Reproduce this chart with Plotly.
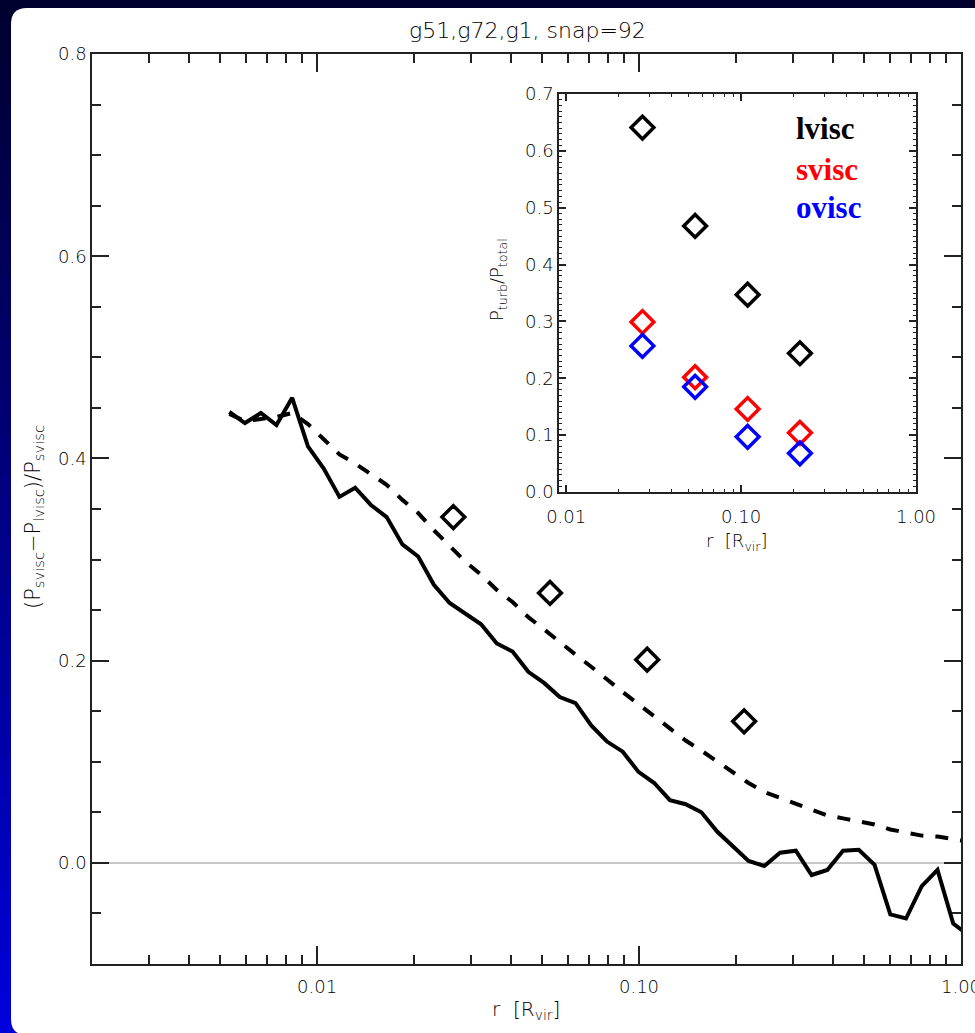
import math
import plotly.graph_objects as go

# ---------------- data ----------------
r_bins = [0.00534, 0.00597, 0.00669, 0.00748, 0.00837, 0.00937, 0.01049, 0.01174,
          0.01313, 0.01470, 0.01645, 0.01841, 0.02061, 0.02306, 0.02581, 0.02888,
          0.03232, 0.03617, 0.04048, 0.04530, 0.05070, 0.05674, 0.06350, 0.07106,
          0.07953, 0.08900, 0.09961, 0.1115, 0.1247, 0.1396, 0.1562, 0.1748,
          0.1956, 0.2189, 0.2450, 0.2742, 0.3069, 0.3436, 0.3844, 0.4302,
          0.4815, 0.5389, 0.6031, 0.6749, 0.7553, 0.8452, 0.9460, 1.0588]

frac_diff_solid = [0.446, 0.435, 0.445, 0.433, 0.460, 0.412, 0.390, 0.362,
                   0.371, 0.354, 0.342, 0.315, 0.303, 0.275, 0.257, 0.247,
                   0.236, 0.217, 0.209, 0.189, 0.178, 0.164, 0.158, 0.136,
                   0.120, 0.110, 0.090, 0.079, 0.062, 0.058, 0.050, 0.031,
                   0.016, 0.002, -0.003, 0.010, 0.012, -0.012, -0.007, 0.012,
                   0.013, -0.002, -0.051, -0.055, -0.023, -0.007, -0.060, -0.072]

frac_diff_dashed = [0.444, 0.437, 0.439, 0.441, 0.445, 0.434, 0.419, 0.404,
                    0.395, 0.385, 0.374, 0.359, 0.346, 0.329, 0.313, 0.298,
                    0.285, 0.270, 0.258, 0.243, 0.231, 0.218, 0.206, 0.194,
                    0.181, 0.169, 0.157, 0.145, 0.132, 0.121, 0.111, 0.100,
                    0.089, 0.079, 0.070, 0.064, 0.059, 0.052, 0.047, 0.044,
                    0.041, 0.038, 0.033, 0.030, 0.027, 0.026, 0.024, 0.021]

main_diamond_r = [0.0265, 0.0529, 0.106, 0.212]
main_diamond_y = [0.342, 0.267, 0.201, 0.140]

inset_r = [0.0273, 0.0546, 0.109, 0.217]
pturb_lvisc = [0.641, 0.468, 0.347, 0.244]
pturb_svisc = [0.299, 0.202, 0.146, 0.104]
pturb_ovisc = [0.257, 0.185, 0.097, 0.068]

main_x_ticks = [0.01, 0.1, 1.0]
main_x_ticktext = ["0.01", "0.10", "1.00"]
main_y_ticks = [0.0, 0.2, 0.4, 0.6, 0.8]
main_y_ticktext = ["0.0", "0.2", "0.4", "0.6", "0.8"]
inset_y_ticks = [0.0, 0.1, 0.2, 0.3, 0.4, 0.5, 0.6, 0.7]
inset_y_ticktext = ["0.0", "0.1", "0.2", "0.3", "0.4", "0.5", "0.6", "0.7"]

# ---------------- geometry ----------------
W, H = 975, 1033
L, R, T, B = 92, 961, 54, 964


def PX(px):
    return (px - L) / (R - L)


def PY(py):
    return (B - py) / (B - T)


FONT = "DejaVu Sans"
FW = 300
TXT = "#000000"
AX = "#222222"

minor_main = [d * 10.0 ** e for e in (-3, -2, -1) for d in range(2, 10)]

fig = go.Figure()

# main curves
fig.add_trace(go.Scatter(x=r_bins, y=frac_diff_solid, mode="lines",
                         line=dict(color="black", width=4), showlegend=False,
                         xaxis="x", yaxis="y"))
fig.add_trace(go.Scatter(x=r_bins, y=frac_diff_dashed, mode="lines",
                         line=dict(color="black", width=4, dash="13px,12px"),
                         showlegend=False, xaxis="x", yaxis="y"))
fig.add_trace(go.Scatter(x=main_diamond_r, y=main_diamond_y, mode="markers",
                         marker=dict(symbol="diamond-open", size=17.5, color="black",
                                     line=dict(width=3.5, color="black")),
                         showlegend=False, xaxis="x", yaxis="y"))

# inset markers
for vals, col in ((pturb_lvisc, "black"), (pturb_svisc, "#ff0000"), (pturb_ovisc, "#0000ff")):
    fig.add_trace(go.Scatter(x=inset_r, y=vals, mode="markers",
                             marker=dict(symbol="diamond-open", size=17.5, color=col,
                                         line=dict(width=3.5, color=col)),
                             showlegend=False, xaxis="x2", yaxis="y2"))

# ---------------- background: blue gradient + white rounded panel ----------------
shapes = []
N = 52
for k in range(N):
    y0p = k * H / N
    y1p = (k + 1) * H / N + 1
    t = ((y0p + y1p) / 2) / H
    b = int(round(45 + 175 * t))
    shapes.append(dict(type="rect", xref="paper", yref="paper",
                       x0=PX(-2), x1=PX(W + 2), y0=PY(y1p), y1=PY(y0p),
                       fillcolor=f"rgb(0,0,{b})", line=dict(width=0), layer="below"))

rx = 16 / (R - L)
ry = 16 / (B - T)
x0, x1 = PX(11), PX(1010)
yt, yb = PY(8), PY(1035)
path = (f"M {x0 + rx},{yt} L {x1},{yt} L {x1},{yb} L {x0 + rx},{yb} "
        f"Q {x0},{yb} {x0},{yb + ry} L {x0},{yt - ry} Q {x0},{yt} {x0 + rx},{yt} Z")
shapes.append(dict(type="path", path=path, xref="paper", yref="paper",
                   fillcolor="white", line=dict(width=0), layer="below"))

# zero line
shapes.append(dict(type="line", xref="paper", yref="y", x0=0, x1=1, y0=0, y1=0,
                   line=dict(color="#b4b4b4", width=1.5), layer="below"))

# ---------------- annotations ----------------
ann = []
ann.append(dict(text="g51,g72,g1, snap=92", xref="paper", yref="paper",
                x=PX(527), y=PY(30), xanchor="center", yanchor="middle",
                showarrow=False, font=dict(family=FONT, size=22, color=TXT, weight=FW)))
ann.append(dict(text="(P<sub>svisc</sub>\u2212P<sub>lvisc</sub>)/P<sub>svisc</sub>",
                xref="paper", yref="paper", x=PX(34), y=PY(517), textangle=-90,
                xanchor="center", yanchor="middle", showarrow=False,
                font=dict(family=FONT, size=21, color=TXT, weight=FW)))
ann.append(dict(text="r  [R<sub>vir</sub>]", xref="paper", yref="paper",
                x=PX(526), y=PY(1010), xanchor="center", yanchor="middle",
                showarrow=False, font=dict(family=FONT, size=20, color=TXT, weight=FW)))
ann.append(dict(text="P<sub>turb</sub>/P<sub>total</sub>",
                xref="paper", yref="paper", x=PX(498), y=PY(280), textangle=-90,
                xanchor="center", yanchor="middle", showarrow=False,
                font=dict(family=FONT, size=18, color=TXT, weight=FW)))
ann.append(dict(text="r  [R<sub>vir</sub>]", xref="paper", yref="paper",
                x=PX(737), y=PY(542), xanchor="center", yanchor="middle",
                showarrow=False, font=dict(family=FONT, size=18, color=TXT, weight=FW)))
for label, col, ypx in (("lvisc", "black", 128), ("svisc", "#ff0000", 169), ("ovisc", "#0000ff", 208)):
    ann.append(dict(text=f"<b>{label}</b>", xref="paper", yref="paper",
                    x=PX(794), y=PY(ypx), xanchor="left", yanchor="middle",
                    showarrow=False,
                    font=dict(family="Liberation Serif", size=31, color=col)))

# ---------------- axes ----------------
common = dict(showline=True, linecolor=AX, linewidth=1.5, mirror="ticks",
              ticks="inside", tickcolor=AX, tickwidth=1.5, showgrid=False,
              zeroline=False, automargin=False, ticklabeloverflow="allow",
              tickfont=dict(family=FONT, size=18, color=TXT, weight=FW))

fig.update_layout(
    width=W, height=H,
    margin=dict(l=L, r=W - R, t=T, b=H - B, pad=0, autoexpand=False),
    paper_bgcolor="rgb(0,0,110)", plot_bgcolor="white",
    showlegend=False,
    shapes=shapes, annotations=ann,
    xaxis=dict(type="log", range=[math.log10(0.002), 0.0], domain=[0, 1], anchor="y",
               tickmode="array", tickvals=main_x_ticks, ticktext=main_x_ticktext,
               ticklen=18, ticklabelstandoff=6,
               minor=dict(tickmode="array", tickvals=minor_main, ticklen=9,
                          tickwidth=1.5, tickcolor=AX, ticks="inside"),
               **common),
    yaxis=dict(range=[-0.1, 0.8], domain=[0, 1], anchor="x",
               tickmode="array", tickvals=main_y_ticks, ticktext=main_y_ticktext,
               ticklen=17,
               minor=dict(dtick=0.05, tick0=0, ticklen=9, tickwidth=1.5,
                          tickcolor=AX, ticks="inside"),
               **common),
    xaxis2=dict(type="log", range=[math.log10(0.0091), 0.0],
                domain=[PX(559), PX(916)], anchor="y2",
                tickmode="array", tickvals=main_x_ticks, ticktext=main_x_ticktext,
                ticklen=7, ticklabelstandoff=8,
                minor=dict(tickmode="array", tickvals=minor_main, ticklen=3.5,
                           tickwidth=1.2, tickcolor=AX, ticks="inside"),
                **common),
    yaxis2=dict(range=[0.0, 0.7], domain=[PY(492), PY(94)], anchor="x2",
                tickmode="array", tickvals=inset_y_ticks, ticktext=inset_y_ticktext,
                ticklen=7,
                minor=dict(dtick=0.01, tick0=0, ticklen=3.5, tickwidth=1.2,
                           tickcolor=AX, ticks="inside"),
                **common),
)

fig.write_html("out.html")
